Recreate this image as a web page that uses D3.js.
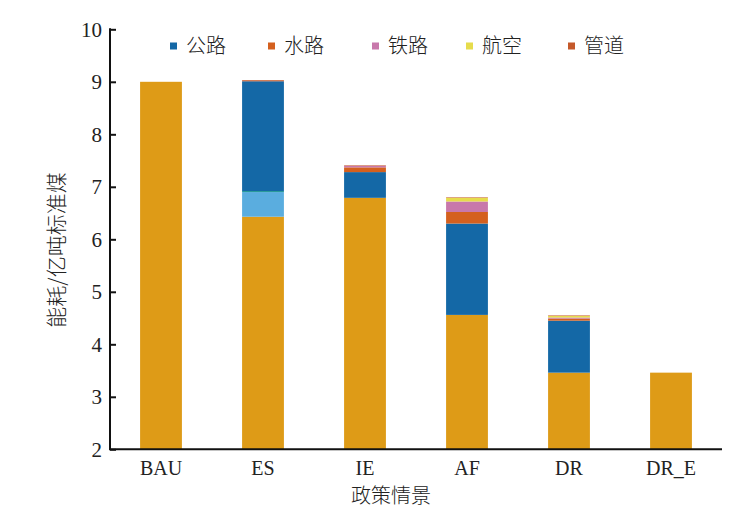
<!DOCTYPE html>
<html>
<head>
<meta charset="utf-8">
<script src="https://cdn.jsdelivr.net/npm/d3@7/dist/d3.min.js"></script>
<style>
  body { margin: 0; background: #fff; }
  .tick text { font-family: "Liberation Serif", "DejaVu Serif", serif; }
</style>
</head>
<body>
<svg id="chart"></svg>
<script>
const width = 733;
const height = 513;

// data
const scenarios = ['BAU', 'ES', 'IE', 'AF', 'DR', 'DR_E'];
const baseValues = [9.0, 6.43, 6.79, 4.56, 3.46, 3.46];
const extraValues = [0, 0.47, 0, 0, 0, 0];
const tealValues = [0, 0.02, 0, 0, 0, 0];
const roadValues = [0, 2.09, 0.49, 1.74, 0.99, 0];
const waterValues = [0, 0, 0.09, 0.22, 0.04, 0];
const railValues = [0, 0, 0.03, 0.20, 0.02, 0];
const airValues = [0, 0, 0, 0.07, 0.03, 0];
const pipeValues = [0, 0.02, 0.01, 0.01, 0.01, 0];
const yTicks = [2, 3, 4, 5, 6, 7, 8, 9, 10];

const seriesKeys = ['base', 'extra', 'teal', '公路', '水路', '铁路', '航空', '管道'];
const seriesColors = {
  base: '#de9b17',
  extra: '#5aaddf',
  teal: '#2a9a9a',
  '公路': '#1468a6',
  '水路': '#d4601e',
  '铁路': '#c878ab',
  '航空': '#e6dc4c',
  '管道': '#c4592a'
};
const legendKeys = ['公路', '水路', '铁路', '航空', '管道'];

const table = scenarios.map((s, i) => ({
  name: s,
  base: baseValues[i],
  extra: extraValues[i],
  teal: tealValues[i],
  '公路': roadValues[i],
  '水路': waterValues[i],
  '铁路': railValues[i],
  '航空': airValues[i],
  '管道': pipeValues[i]
}));

const svg = d3.select('#chart')
  .attr('width', width)
  .attr('height', height);

const plotLeft = 110, plotRight = 722, plotTop = 29.3, plotBottom = 449.3;

const x = d3.scaleBand()
  .domain(scenarios)
  .range([plotLeft, plotRight])
  .paddingInner(0.59)
  .paddingOuter(0.295);

const y = d3.scaleLinear()
  .domain([2, 10])
  .range([plotBottom, plotTop]);

const stacked = d3.stack().keys(seriesKeys)(table);

// bars
svg.append('g')
  .selectAll('g')
  .data(stacked)
  .join('g')
    .attr('fill', d => seriesColors[d.key])
  .selectAll('rect')
  .data(d => d.filter(p => p[1] - p[0] > 0))
  .join('rect')
    .attr('x', p => x(p.data.name))
    .attr('width', x.bandwidth())
    .attr('y', p => y(p[1]))
    .attr('height', p => y(Math.max(2, p[0])) - y(p[1]));

// y axis, ticks pointing inward
const yAxis = svg.append('g')
  .attr('transform', `translate(${plotLeft},0)`)
  .call(d3.axisLeft(y).tickValues(yTicks).tickSizeInner(-6).tickSizeOuter(0).tickPadding(8));
yAxis.select('.domain').remove();
yAxis.selectAll('.tick line').attr('stroke', '#111').attr('stroke-width', 2);
yAxis.selectAll('.tick text')
  .attr('font-size', 21)
  .attr('fill', '#222');
yAxis.append('line')
  .attr('x1', 0).attr('x2', 0)
  .attr('y1', plotTop - 1).attr('y2', plotBottom)
  .attr('stroke', '#111').attr('stroke-width', 2);

// x axis
const xAxis = svg.append('g')
  .attr('transform', `translate(0,${plotBottom})`)
  .call(d3.axisBottom(x).tickSize(0).tickPadding(12));
xAxis.select('.domain').remove();
xAxis.selectAll('.tick text')
  .attr('font-size', 20)
  .attr('fill', '#222');
xAxis.append('line')
  .attr('x1', plotLeft - 1).attr('x2', plotRight)
  .attr('y1', 0).attr('y2', 0)
  .attr('stroke', '#111').attr('stroke-width', 2);

// axis titles
svg.append('text')
  .attr('x', 391)
  .attr('y', 503)
  .attr('text-anchor', 'middle')
  .style('font-family', '"Noto Sans CJK SC", sans-serif')
  .style('font-weight', 300)
  .style('font-size', '20px')
  .attr('fill', '#222')
  .text('政策情景');

svg.append('text')
  .attr('transform', 'translate(64,250) rotate(-90)')
  .attr('text-anchor', 'middle')
  .style('font-family', '"Noto Sans CJK SC", sans-serif')
  .style('font-weight', 300)
  .style('font-size', '21px')
  .attr('fill', '#222')
  .text('能耗/亿吨标准煤');

// legend
const legendX = [170, 268, 372, 466, 568];
const legend = svg.append('g')
  .selectAll('g')
  .data(legendKeys)
  .join('g')
    .attr('transform', (d, i) => `translate(${legendX[i]},46)`);
legend.append('rect')
  .attr('x', 0).attr('y', -3.5)
  .attr('width', 7).attr('height', 7)
  .attr('fill', d => seriesColors[d]);
legend.append('text')
  .attr('x', 16)
  .attr('y', 7)
  .style('font-family', '"Noto Sans CJK SC", sans-serif')
  .style('font-weight', 300)
  .style('font-size', '20px')
  .attr('fill', '#222')
  .text(d => d);
</script>
</body>
</html>
